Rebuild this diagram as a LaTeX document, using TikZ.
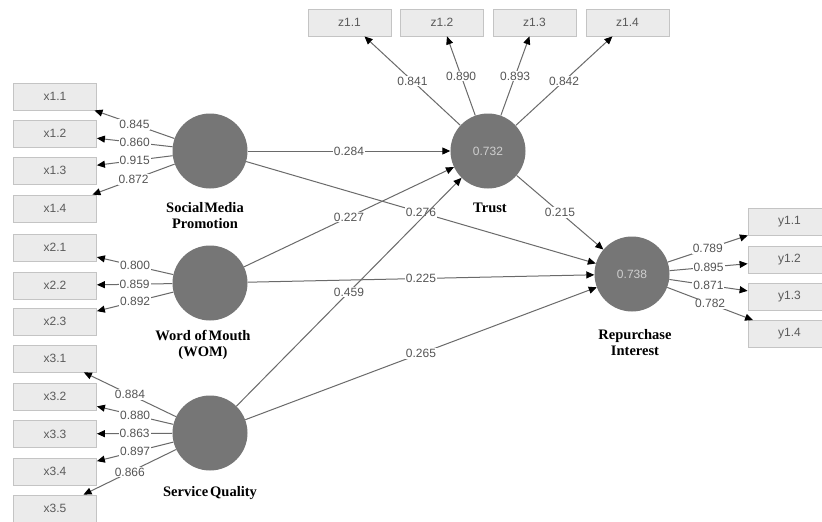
\documentclass[tikz,border=0pt]{standalone}
\usepackage{fontspec}
\setmainfont{Liberation Serif}
\setsansfont{Liberation Sans}
\usetikzlibrary{arrows.meta}
\definecolor{lvgray}{HTML}{767676}
\definecolor{lvtext}{HTML}{CFCFCF}
\definecolor{boxfill}{HTML}{EBEBEB}
\definecolor{boxline}{HTML}{C4C4C4}
\definecolor{boxtext}{HTML}{5A5A5A}
\definecolor{linegray}{HTML}{6A6A6A}
\definecolor{numtext}{HTML}{555555}
\begin{document}
\begin{tikzpicture}[x=1pt,y=-1pt,
  ind/.style={draw=boxline, line width=0.8pt, fill=boxfill, minimum width=83pt, minimum height=27pt, inner sep=0pt,
    font=\sffamily\fontsize{12}{14}\selectfont, text=boxtext},
  lv/.style={circle, fill=lvgray, minimum size=75pt, inner sep=0pt, text=lvtext,
    font=\sffamily\fontsize{12}{14}\selectfont},
  lvname/.style={align=center, font=\bfseries\fontsize{14.5}{16}\selectfont, text=black},
  conn/.style={draw=linegray, line width=1pt, -{Triangle[length=8pt,width=7pt,color=black]}},
  lab/.style={fill=white, inner sep=1pt, text=numtext, font=\sffamily\fontsize{12}{14}\selectfont}
]
\useasboundingbox (0,0) rectangle (822,522);
\fill[white] (0,0) rectangle (822,522);

% indicator boxes
\node[ind] (x11) at (55,96.5) {x1.1};
\node[ind] (x12) at (55,133.5) {x1.2};
\node[ind] (x13) at (55,170.5) {x1.3};
\node[ind] (x14) at (55,208.5) {x1.4};
\node[ind] (x21) at (55,247.5) {x2.1};
\node[ind] (x22) at (55,285.5) {x2.2};
\node[ind] (x23) at (55,321.5) {x2.3};
\node[ind] (x31) at (55,358.5) {x3.1};
\node[ind] (x32) at (55,396.5) {x3.2};
\node[ind] (x33) at (55,434) {x3.3};
\node[ind] (x34) at (55,471.5) {x3.4};
\node[ind] (x35) at (55,508.5) {x3.5};
\node[ind] (z11) at (349.5,22.5) {z1.1};
\node[ind] (z12) at (442,22.5) {z1.2};
\node[ind] (z13) at (534.5,22.5) {z1.3};
\node[ind] (z14) at (627.5,22.5) {z1.4};
\node[ind] (y11) at (789.5,221.5) {y1.1};
\node[ind] (y12) at (789.5,260) {y1.2};
\node[ind] (y13) at (789.5,297) {y1.3};
\node[ind] (y14) at (789.5,334) {y1.4};

% latent variables
\node[lv] (smp) at (210,151) {};
\node[lv] (wom) at (210,283) {};
\node[lv] (sq) at (210,433) {};
\node[lv] (tr) at (488,151) {0.732};
\node[lv] (rp) at (632,274) {0.738};

\node[lvname] (smpn) at (205,216) {Social\kern1ptMedia\\Promotion};
\node[lvname] (womn) at (203,345) {Word of\kern2ptMouth\\(WOM)};
\node[lvname] (sqn) at (210,493) {Service\kern2ptQuality};
\node[lvname] (trn) at (490,208) {Trust};
\node[lvname] (rpn) at (635,343) {Repurchase\\Interest};

% outer loadings
\draw[conn] (smp) -- node[lab] {0.845} (x11);
\draw[conn] (smp) -- node[lab] {0.860} (x12);
\draw[conn] (smp) -- node[lab] {0.915} (x13);
\draw[conn] (smp) -- node[lab] {0.872} (x14);
\draw[conn] (wom) -- node[lab] {0.800} (x21);
\draw[conn] (wom) -- node[lab] {0.859} (x22);
\draw[conn] (wom) -- node[lab] {0.892} (x23);
\draw[conn] (sq) -- node[lab] {0.884} (x31);
\draw[conn] (sq) -- node[lab] {0.880} (x32);
\draw[conn] (sq) -- node[lab] {0.863} (x33);
\draw[conn] (sq) -- node[lab] {0.897} (x34);
\draw[conn] (sq) -- node[lab] {0.866} (x35);
\draw[conn] (tr) -- node[lab] {0.841} (z11);
\draw[conn] (tr) -- node[lab] {0.890} (z12);
\draw[conn] (tr) -- node[lab] {0.893} (z13);
\draw[conn] (tr) -- node[lab] {0.842} (z14);
\draw[conn] (rp) -- node[lab] {0.789} (y11);
\draw[conn] (rp) -- node[lab] {0.895} (y12);
\draw[conn] (rp) -- node[lab] {0.871} (y13);
\draw[conn] (rp) -- node[lab] {0.782} (y14);

% structural paths
\draw[conn] (smp) -- node[lab] {0.284} (tr);
\draw[conn] (smp) -- node[lab] {0.276} (rp);
\draw[conn] (wom) -- node[lab] {0.227} (tr);
\draw[conn] (wom) -- node[lab] {0.225} (rp);
\draw[conn] (sq) -- node[lab] {0.459} (tr);
\draw[conn] (sq) -- node[lab] {0.265} (rp);
\draw[conn] (tr) -- node[lab] {0.215} (rp);
\end{tikzpicture}
\end{document}
